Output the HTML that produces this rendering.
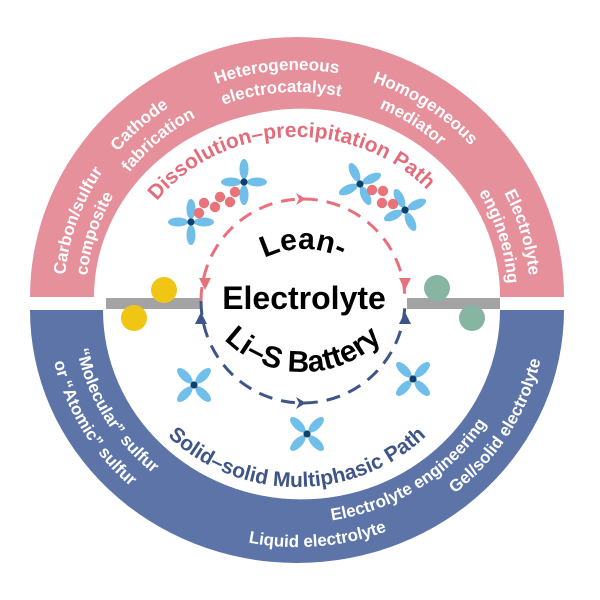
<!DOCTYPE html>
<html><head><meta charset="utf-8"><style>
html,body{margin:0;padding:0;background:#fff;}
svg{display:block;}
text{font-family:"Liberation Sans",Arial,sans-serif;font-weight:bold;}
</style></head><body>
<svg width="600" height="600" viewBox="0 0 600 600" xmlns="http://www.w3.org/2000/svg">
<defs>
  <g id="mol">
    <ellipse cx="0" cy="-13" rx="4.5" ry="10" fill="#6fbfea"/>
    <ellipse cx="0" cy="13" rx="4.5" ry="10" fill="#6fbfea"/>
    <ellipse cx="-13" cy="0" rx="10" ry="4.5" fill="#6fbfea"/>
    <ellipse cx="13" cy="0" rx="10" ry="4.5" fill="#6fbfea"/>
    <circle cx="0" cy="0" r="3.6" fill="#10406e"/>
  </g>
  <path id="pO" d="M64,297 A233 227 0 1 1 530,297 A233 227 0 1 1 64,297"/>
  <path id="pI" d="M86,297 A211 205 0 1 1 508,297 A211 205 0 1 1 86,297"/>
  <path id="pD" d="M122,297 A175 160 0 1 1 472,297 A175 160 0 1 1 122,297"/>
  <path id="bO" d="M48,310 A249 237 0 1 0 546,310 A249 237 0 1 0 48,310"/>
  <path id="bI" d="M73,310 A224 213 0 1 0 521,310 A224 213 0 1 0 73,310"/>
  <path id="bS" d="M113,310 A184 177 0 1 0 481,310 A184 177 0 1 0 113,310"/>
  <path id="lean" d="M218,334 A85 85 0 0 1 388,334"/>
  <path id="lis" d="M191,260 A112 112 0 0 0 415,260"/>
</defs>

<path d="M30,297 A267 260 0 0 1 564,297 L500,297 A203 187 0 0 0 94,297 Z" fill="#e5909b"/>
<path d="M103,297 L500,297 A197 187 0 0 0 103,297 Z" fill="#fff"/>
<path d="M30,310 A267 253 0 0 0 564,310 L500,310 A197 188 0 0 1 103,310 Z" fill="#5c74a8"/>

<rect x="106" y="298" width="95" height="11" fill="#a3a3a3"/>
<rect x="407" y="298" width="93" height="11" fill="#a3a3a3"/>
<circle cx="164" cy="290" r="13" fill="#f1c514"/>
<circle cx="134" cy="318" r="13" fill="#f1c514"/>
<circle cx="437" cy="288" r="13" fill="#86b5a2"/>
<circle cx="472" cy="318" r="13" fill="#86b5a2"/>

<g fill="#fff" font-size="17">
  <text><textPath href="#pO" startOffset="5.4%" text-anchor="middle">Carbon/sulfur</textPath></text>
  <text><textPath href="#pI" startOffset="4.9%" text-anchor="middle">composite</textPath></text>
  <text><textPath href="#pO" startOffset="13.3%" text-anchor="middle">Cathode</textPath></text>
  <text><textPath href="#pI" startOffset="13.6%" text-anchor="middle">fabrication</textPath></text>
  <text><textPath href="#pO" startOffset="23.6%" text-anchor="middle">Heterogeneous</textPath></text>
  <text><textPath href="#pI" startOffset="23.8%" text-anchor="middle">electrocatalyst</textPath></text>
  <text><textPath href="#pO" startOffset="34.4%" text-anchor="middle">Homogeneous</textPath></text>
  <text><textPath href="#pI" startOffset="34.2%" text-anchor="middle">mediator</textPath></text>
  <text><textPath href="#pO" startOffset="45.5%" text-anchor="middle">Electrolyte</textPath></text>
  <text><textPath href="#pI" startOffset="45.3%" text-anchor="middle">engineering</textPath></text>
</g>
<text fill="#e36c7b" font-size="21"><textPath href="#pD" startOffset="24.3%" text-anchor="middle">Dissolution–precipitation Path</textPath></text>

<g fill="#fff" font-size="17">
  <text><textPath href="#bI" startOffset="8.3%" text-anchor="middle">“Molecular” sulfur</textPath></text>
  <text><textPath href="#bO" startOffset="8.3%" text-anchor="middle">or “Atomic” sulfur</textPath></text>
  <text><textPath href="#bO" startOffset="26.4%" text-anchor="middle">Liquid electrolyte</textPath></text>
  <text><textPath href="#bI" startOffset="34.4%" text-anchor="middle">Electrolyte engineering</textPath></text>
  <text><textPath href="#bO" startOffset="41.4%" text-anchor="middle">Gel/solid electrolyte</textPath></text>
</g>
<text fill="#3e5588" font-size="21"><textPath href="#bS" startOffset="25%" text-anchor="middle">Solid–solid Multiphasic Path</textPath></text>

<path d="M201,301 A102 102 0 0 1 405,301" fill="none" stroke="#e8707c" stroke-width="3" stroke-dasharray="14 9"/>
<path d="M201,301 A102 102 0 0 0 405,301" fill="none" stroke="#3e5588" stroke-width="3" stroke-dasharray="14 9"/>
<g fill="#e8707c">
  <path d="M296,193 L306,199 L296,205 L299,199 Z"/>
  <path d="M199,278 L211,278 L205,290 Z"/>
  <path d="M399,278 L411,278 L405,290 Z"/>
</g>
<g fill="#3e5588">
  <path d="M296,397 L306,403 L296,409 L299,403 Z"/>
  <path d="M195,324 L207,324 L201,312 Z"/>
  <path d="M399,324 L411,324 L405,312 Z"/>
</g>

<use href="#mol" x="244" y="182"/>
<use href="#mol" x="191" y="222"/>
<use href="#mol" transform="translate(360,184) rotate(-25)"/>
<use href="#mol" transform="translate(405,210) rotate(-25)"/>
<use href="#mol" transform="translate(194,385) rotate(45)"/>
<use href="#mol" transform="translate(413,379) rotate(45)"/>
<use href="#mol" transform="translate(307,434) rotate(45)"/>
<g fill="#ea7279">
  <circle cx="199" cy="213" r="5.2"/><circle cx="204" cy="203" r="5.2"/>
  <circle cx="215" cy="207" r="5.2"/><circle cx="220" cy="197" r="5.2"/>
  <circle cx="230" cy="202" r="5.2"/><circle cx="235" cy="192" r="5.2"/>
  <circle cx="372" cy="190" r="5.2"/><circle cx="383" cy="191" r="5.2"/>
  <circle cx="382" cy="203" r="5.2"/><circle cx="393" cy="204" r="5.2"/>
</g>

<text fill="#000" font-size="30"><textPath href="#lean" startOffset="50%" text-anchor="middle">Lean-</textPath></text>
<text x="304" y="309" fill="#000" font-size="32" text-anchor="middle">Electrolyte</text>
<text fill="#000" font-size="30"><textPath href="#lis" startOffset="50%" text-anchor="middle">Li–S Battery</textPath></text>
</svg>
</body></html>
